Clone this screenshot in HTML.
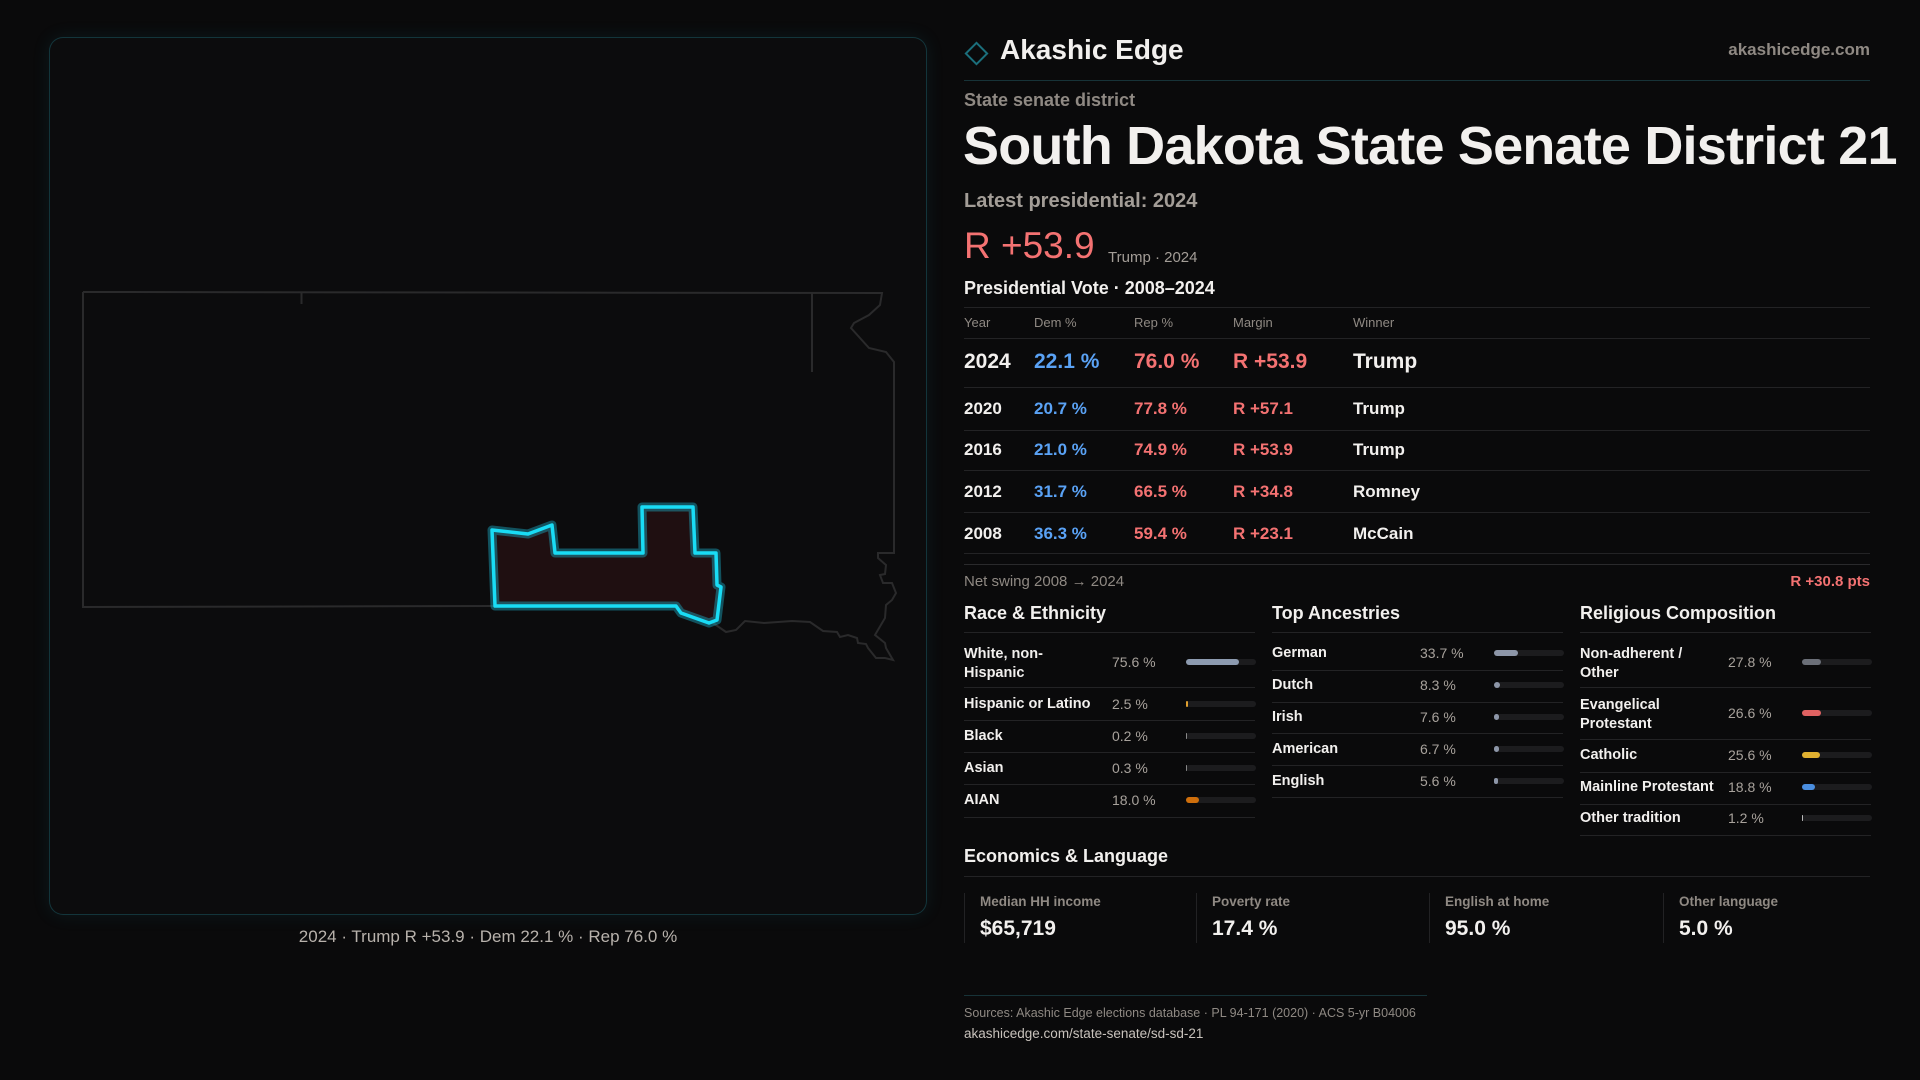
<!DOCTYPE html>
<html><head><meta charset="utf-8">
<style>
*{margin:0;padding:0;box-sizing:border-box}
body{width:1920px;height:1080px;background:#0a0a0b;font-family:"Liberation Sans",sans-serif;color:#f2f0ee;position:relative;overflow:hidden}
.a{position:absolute;white-space:nowrap;line-height:1}
.hl{position:absolute;height:1px;background:#232325}
.g{color:#8f8983}
.r{color:#f47272}.b{color:#5aa2f5}
</style></head><body>
<div class="a" style="left:49px;top:37px;width:878px;height:878px;border:1px solid rgba(40,160,180,0.28);border-radius:14px;background:#0c0c0d;box-shadow:0 0 18px rgba(30,140,160,0.12)"></div>
<svg class="a" style="left:0;top:0" width="960" height="960">
<g fill="none" stroke="#2a2a2b" stroke-width="2">
<path d="M83,292 L882,293 L880,305 L869,315 L854,323 L851,328 L869,348 L886,352 L894,362 L894,553 L878,553 L878,558 L886,565 L885,574 L880,575 L883,583 L892,583 L896,593 L892,600 L886,605 L885,618 L875,635 L885,643 L886,648 L893,660 L885,658 L876,658 L868,648 L866,644 L858,643 L857,638 L848,635 L840,637 L837,632 L823,631 L810,622 L792,621 L764,623 L745,621 L736,630 L726,632 L713,623 M495,606 L83,607 L83,292"/>
<path d="M301.5,293 L301.5,304 M812,293 L812,372"/>
</g>
<path d="M492,530 L528,534 L552,525 L555,553 L643,553 L642,507 L693,507 L695,553 L716,553 L717,585 L721,587 L717,620 L709,623 L681,613 L676,606 L495,606 Z" fill="#1f0f11" stroke="#1aa9c0" stroke-opacity="0.45" stroke-width="9" stroke-linejoin="round"/>
<path d="M492,530 L528,534 L552,525 L555,553 L643,553 L642,507 L693,507 L695,553 L716,553 L717,585 L721,587 L717,620 L709,623 L681,613 L676,606 L495,606 Z" fill="none" stroke="#19dcf5" stroke-width="3.5" stroke-linejoin="round"/>
</svg>
<div class="a" style="left:49px;width:878px;text-align:center;top:928px;font-size:17px;color:#b8b2ac">2024 · Trump R +53.9 · Dem 22.1 % · Rep 76.0 %</div>

<div class="a" style="left:968px;top:45px;width:17px;height:17px;border:2px solid #1b6f7c;transform:rotate(45deg)"></div>
<div class="a" style="left:1000px;top:36px;font-size:28px;font-weight:bold">Akashic Edge</div>
<div class="a g" style="right:50px;top:41px;font-size:17px;font-weight:bold">akashicedge.com</div>
<div class="hl" style="left:964px;width:906px;top:80px;background:#173338"></div>
<div class="a g" style="left:964px;top:91px;font-size:18px;font-weight:bold">State senate district</div>
<div class="a" style="left:963px;top:119px;font-size:54px;font-weight:bold;letter-spacing:-0.8px">South Dakota State Senate District 21</div>
<div class="a" style="left:964px;top:191px;font-size:20px;font-weight:bold;color:#a39d97">Latest presidential: 2024</div>
<div class="a r" style="left:964px;top:227px;font-size:37px">R +53.9</div>
<div class="a" style="left:1108px;top:250px;font-size:15px;color:#a39d97">Trump · 2024</div>
<div class="a" style="left:964px;top:279px;font-size:18px;font-weight:bold">Presidential Vote · 2008–2024</div>
<div class="hl" style="left:964px;width:906px;top:307px"></div>
<div id="tbl"></div>
<div class="hl" style="left:964px;width:906px;top:564px;background:#2a2a2c"></div>
<div class="a g" style="left:964px;top:574px;font-size:15px">Net swing 2008 → 2024</div>
<div class="a r" style="right:50px;top:574px;font-size:15px;font-weight:bold">R +30.8 pts</div>
<div id="demo"></div>
<div class="a" style="left:964px;top:847px;font-size:18px;font-weight:bold">Economics &amp; Language</div>
<div class="hl" style="left:964px;width:906px;top:876px"></div>
<div id="econ"></div>
<div class="hl" style="left:964px;width:463px;top:995px;background:#173338"></div>
<div class="a g" style="left:964px;top:1007px;font-size:12.5px">Sources: Akashic Edge elections database · PL 94-171 (2020) · ACS 5-yr B04006</div>
<div class="a" style="left:964px;top:1027px;font-size:13.5px;color:#c8c2bc">akashicedge.com/state-senate/sd-sd-21</div>
<script>
const years=['2024','2020','2016','2012','2008'];
const demPct=[22.1,20.7,21.0,31.7,36.3];
const repPct=[76.0,77.8,74.9,66.5,59.4];
const winners=['Trump','Trump','Trump','Romney','McCain'];
const raceCats=['White, non-|Hispanic','Hispanic or Latino','Black','Asian','AIAN'];
const raceVals=[75.6,2.5,0.2,0.3,18.0];
const ancCats=['German','Dutch','Irish','American','English'];
const ancVals=[33.7,8.3,7.6,6.7,5.6];
const relCats=['Non-adherent /|Other','Evangelical|Protestant','Catholic','Mainline Protestant','Other tradition'];
const relVals=[27.8,26.6,25.6,18.8,1.2];
const econLabels=['Median HH income','Poverty rate','English at home','Other language'];
const econVals=['$65,719','17.4 %','95.0 %','5.0 %'];
function mk(parent,cls,style,html){const d=document.createElement('div');d.className=cls;d.style.cssText=style;d.innerHTML=html;parent.appendChild(d);return d;}
const T=document.getElementById('tbl');
const cols=[964,1034,1134,1233,1353];
['Year','Dem %','Rep %','Margin','Winner'].forEach((h,i)=>{const e=mk(T,'a g','left:'+cols[i]+'px;top:316px;font-size:13px',h);

});
mk(T,'hl','left:964px;width:906px;top:338px','');
const rowY=[361,408,449,491,533],lineY=[387,430,470,512,553];
years.forEach((y,i)=>{const fs=i==0?21:17;const t=rowY[i]-fs/2;const m=(repPct[i]-demPct[i]).toFixed(1);
const vals=[y,demPct[i].toFixed(1)+' %',repPct[i].toFixed(1)+' %','R +'+m,winners[i]];const cl=['','b','r','r',''];
vals.forEach((v,j)=>{const e=mk(T,'a '+cl[j],'left:'+cols[j]+'px;top:'+t+'px;font-size:'+fs+'px;font-weight:bold',v);

});
mk(T,'hl','left:964px;width:906px;top:'+lineY[i]+'px','');});
const D=document.getElementById('demo');
const groups=[{t:'Race & Ethnicity',x:964,w:291,cats:raceCats,vals:raceVals,cols:['#8d9bb0','#e0a030','#888','#888','#cf6f0c'],ys:[662,704,736,768,800],ls:[687,720,752,784,817]},
{t:'Top Ancestries',x:1272,w:291,cats:ancCats,vals:ancVals,cols:['#8d96a8','#8d96a8','#8d96a8','#8d96a8','#8d96a8'],ys:[653,685,717,749,781],ls:[670,702,733,765,797]},
{t:'Religious Composition',x:1580,w:291,cats:relCats,vals:relVals,cols:['#6b6f78','#e06262','#e0b030','#4a8ee0','#bbbbbb'],ys:[662,713,755,787,818],ls:[687,739,772,804,835]}];
groups.forEach((g,gi)=>{const h=mk(D,'a','left:'+g.x+'px;top:604px;font-size:18px;font-weight:bold',g.t);


mk(D,'hl','left:'+g.x+'px;width:'+g.w+'px;top:632px','');
g.cats.forEach((c,i)=>{const two=c.includes('|');const cy=g.ys[i];
const l=mk(D,'a','left:'+g.x+'px;top:'+(cy-(two?17:7.5))+'px;font-size:14.5px;font-weight:bold;line-height:'+(two?'19px':'1'),c.replace('|','<br>'));


const p=mk(D,'a','left:'+(g.x+148)+'px;top:'+(cy-7)+'px;font-size:14px;color:#a8a29c',g.vals[i].toFixed(1)+' %');


const tr=mk(D,'a','left:'+(g.x+222)+'px;top:'+(cy-3)+'px;width:70px;height:6px;border-radius:3px;background:#1c1c1e','');


const bw=70*g.vals[i]/100;
const b=mk(tr,'a','left:0;top:0;height:6px;border-radius:3px;width:'+bw+'px;background:'+g.cols[i],'');


mk(D,'hl','left:'+g.x+'px;width:'+g.w+'px;top:'+g.ls[i]+'px','');});});
const E=document.getElementById('econ');
const ex=[964,1196,1429,1663];
econLabels.forEach((l,i)=>{const c=mk(E,'a','left:'+ex[i]+'px;top:893px;width:220px;height:50px;border-left:1px solid #222224','');


mk(c,'a g','left:15px;top:2px;font-size:13.5px;font-weight:bold',l);
mk(c,'a','left:15px;top:25px;font-size:21px;font-weight:bold',econVals[i]);});
</script>
</body></html>
